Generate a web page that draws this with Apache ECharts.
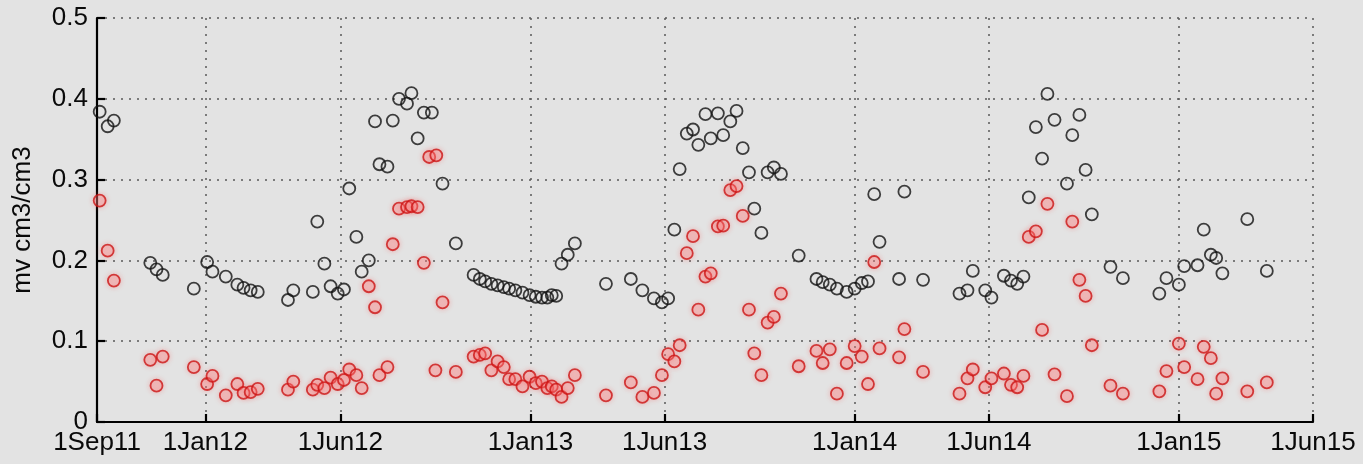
<!DOCTYPE html>
<html>
<head>
<meta charset="utf-8">
<script src="https://cdn.jsdelivr.net/npm/echarts@6/dist/echarts.min.js"></script>
<style>
  html, body { margin: 0; padding: 0; background: #e3e3e3; }
  #chart { width: 1363px; height: 464px; }
</style>
</head>
<body>
<div id="chart"></div>
<script>
// Axis ticks on the date axis
const tickDates = ['2011-09-01', '2012-01-01', '2012-06-01', '2013-01-01', '2013-06-01',
                   '2014-01-01', '2014-06-01', '2015-01-01', '2015-06-01'];
const tickLabels = ['1Sep11', '1Jan12', '1Jun12', '1Jan13', '1Jun13',
                    '1Jan14', '1Jun14', '1Jan15', '1Jun15'];

// Black series: dates and soil moisture (cm3/cm3)
const blackDates = [
  '2011-09-04', '2011-09-13', '2011-09-20', '2011-10-31', '2011-11-07', '2011-11-14', '2011-12-19',
  '2012-01-03', '2012-01-09', '2012-01-24', '2012-02-06', '2012-02-13', '2012-02-21', '2012-02-29',
  '2012-04-03', '2012-04-09', '2012-05-01', '2012-05-06', '2012-05-14', '2012-05-21', '2012-05-29',
  '2012-06-05', '2012-06-11', '2012-06-19', '2012-06-25', '2012-07-03', '2012-07-10', '2012-07-15',
  '2012-07-24', '2012-07-30', '2012-08-06', '2012-08-15', '2012-08-20', '2012-08-27', '2012-09-03',
  '2012-09-12', '2012-09-24', '2012-10-09', '2012-10-29', '2012-11-05', '2012-11-11', '2012-11-18',
  '2012-11-25', '2012-12-02', '2012-12-08', '2012-12-15', '2012-12-23', '2012-12-31', '2013-01-07',
  '2013-01-14', '2013-01-20', '2013-01-25', '2013-01-30', '2013-02-05', '2013-02-12', '2013-02-20',
  '2013-03-27', '2013-04-24', '2013-05-07', '2013-05-20', '2013-05-29', '2013-06-05', '2013-06-12',
  '2013-06-18', '2013-06-26', '2013-07-03', '2013-07-09', '2013-07-17', '2013-07-23', '2013-07-31',
  '2013-08-06', '2013-08-14', '2013-08-21', '2013-08-28', '2013-09-04', '2013-09-10', '2013-09-18',
  '2013-09-25', '2013-10-02', '2013-10-10', '2013-10-30', '2013-11-19', '2013-11-26', '2013-12-04',
  '2013-12-12', '2013-12-23', '2014-01-01', '2014-01-09', '2014-01-16', '2014-01-23', '2014-01-29',
  '2014-02-20', '2014-02-26', '2014-03-19', '2014-04-29', '2014-05-08', '2014-05-14', '2014-05-28',
  '2014-06-04', '2014-06-18', '2014-06-26', '2014-07-03', '2014-07-10', '2014-07-16', '2014-07-24',
  '2014-07-31', '2014-08-06', '2014-08-14', '2014-08-28', '2014-09-03', '2014-09-11', '2014-09-18',
  '2014-09-25', '2014-10-16', '2014-10-30', '2014-12-10', '2014-12-18', '2015-01-01', '2015-01-07',
  '2015-01-22', '2015-01-29', '2015-02-06', '2015-02-12', '2015-02-19', '2015-03-19', '2015-04-10'
];
const blackValues = [
  0.384, 0.366, 0.373, 0.197, 0.189, 0.182, 0.165,
  0.198, 0.186, 0.180, 0.170, 0.166, 0.163, 0.161,
  0.151, 0.163, 0.161, 0.248, 0.196, 0.168, 0.159,
  0.164, 0.289, 0.229, 0.186, 0.200, 0.372, 0.319,
  0.316, 0.373, 0.400, 0.394, 0.407, 0.351, 0.383,
  0.383, 0.295, 0.221, 0.182, 0.177, 0.174, 0.171,
  0.169, 0.167, 0.165, 0.163, 0.160, 0.157, 0.155,
  0.154, 0.154, 0.157, 0.156, 0.196, 0.207, 0.221,
  0.171, 0.177, 0.163, 0.153, 0.148, 0.153, 0.238,
  0.313, 0.357, 0.362, 0.343, 0.381, 0.351, 0.382,
  0.355, 0.372, 0.385, 0.339, 0.309, 0.264, 0.234,
  0.309, 0.315, 0.307, 0.206, 0.177, 0.173, 0.170,
  0.165, 0.161, 0.165, 0.172, 0.174, 0.282, 0.223,
  0.177, 0.285, 0.176, 0.159, 0.163, 0.187, 0.163,
  0.154, 0.181, 0.175, 0.171, 0.180, 0.278, 0.365,
  0.326, 0.406, 0.374, 0.295, 0.355, 0.380, 0.312,
  0.257, 0.192, 0.178, 0.159, 0.178, 0.170, 0.193,
  0.194, 0.238, 0.207, 0.203, 0.184, 0.251, 0.187
];

// Red series: dates and soil moisture (cm3/cm3)
const redDates = [
  '2011-09-04', '2011-09-13', '2011-09-20', '2011-10-31', '2011-11-07', '2011-11-14', '2011-12-19',
  '2012-01-03', '2012-01-09', '2012-01-24', '2012-02-06', '2012-02-13', '2012-02-21', '2012-02-29',
  '2012-04-03', '2012-04-09', '2012-05-01', '2012-05-06', '2012-05-14', '2012-05-21', '2012-05-29',
  '2012-06-05', '2012-06-11', '2012-06-19', '2012-06-25', '2012-07-03', '2012-07-10', '2012-07-15',
  '2012-07-24', '2012-07-30', '2012-08-06', '2012-08-15', '2012-08-20', '2012-08-27', '2012-09-03',
  '2012-09-09', '2012-09-17', '2012-09-16', '2012-09-24', '2012-10-09', '2012-10-29', '2012-11-05',
  '2012-11-11', '2012-11-18', '2012-11-25', '2012-12-02', '2012-12-08', '2012-12-15', '2012-12-23',
  '2012-12-31', '2013-01-07', '2013-01-14', '2013-01-20', '2013-01-25', '2013-01-30', '2013-02-05',
  '2013-02-12', '2013-02-20', '2013-03-27', '2013-04-24', '2013-05-07', '2013-05-20', '2013-05-29',
  '2013-06-05', '2013-06-12', '2013-06-18', '2013-06-26', '2013-07-03', '2013-07-09', '2013-07-17',
  '2013-07-23', '2013-07-31', '2013-08-06', '2013-08-14', '2013-08-21', '2013-08-28', '2013-09-04',
  '2013-09-10', '2013-09-18', '2013-09-25', '2013-10-02', '2013-10-10', '2013-10-30', '2013-11-19',
  '2013-11-26', '2013-12-04', '2013-12-12', '2013-12-23', '2014-01-01', '2014-01-09', '2014-01-16',
  '2014-01-23', '2014-01-29', '2014-02-20', '2014-02-26', '2014-03-19', '2014-04-29', '2014-05-08',
  '2014-05-14', '2014-05-28', '2014-06-04', '2014-06-18', '2014-06-26', '2014-07-03', '2014-07-10',
  '2014-07-16', '2014-07-24', '2014-07-31', '2014-08-06', '2014-08-14', '2014-08-28', '2014-09-03',
  '2014-09-11', '2014-09-18', '2014-09-25', '2014-10-16', '2014-10-30', '2014-12-10', '2014-12-18',
  '2015-01-01', '2015-01-07', '2015-01-22', '2015-01-29', '2015-02-06', '2015-02-12', '2015-02-19',
  '2015-03-19', '2015-04-10'
];
const redValues = [
  0.274, 0.212, 0.175, 0.077, 0.045, 0.081, 0.068,
  0.047, 0.057, 0.033, 0.047, 0.036, 0.037, 0.041,
  0.040, 0.050, 0.040, 0.046, 0.042, 0.055, 0.047,
  0.052, 0.065, 0.058, 0.042, 0.168, 0.142, 0.058,
  0.068, 0.220, 0.264, 0.266, 0.267, 0.266, 0.197,
  0.328, 0.330, 0.064, 0.148, 0.062, 0.081, 0.083,
  0.085, 0.064, 0.075, 0.068, 0.053, 0.053, 0.044,
  0.056, 0.048, 0.050, 0.042, 0.044, 0.040, 0.031,
  0.042, 0.058, 0.033, 0.049, 0.031, 0.036, 0.058,
  0.084, 0.075, 0.095, 0.209, 0.230, 0.139, 0.180,
  0.184, 0.242, 0.243, 0.287, 0.292, 0.255, 0.139,
  0.085, 0.058, 0.123, 0.130, 0.159, 0.069, 0.088,
  0.073, 0.090, 0.035, 0.073, 0.094, 0.081, 0.047,
  0.198, 0.091, 0.080, 0.115, 0.062, 0.035, 0.054,
  0.065, 0.043, 0.054, 0.060, 0.046, 0.043, 0.057,
  0.229, 0.236, 0.114, 0.270, 0.059, 0.032, 0.248,
  0.176, 0.156, 0.095, 0.045, 0.035, 0.038, 0.063,
  0.097, 0.068, 0.053, 0.093, 0.079, 0.035, 0.054,
  0.038, 0.049
];

const yAxisTitle = 'mv cm3/cm3';

// Dates are placed on a numeric axis as days counted from the first tick
const DAY = 86400000;
function toMs(s) {
  const p = s.split('-').map(Number);
  return Date.UTC(p[0], p[1] - 1, p[2]);
}
const origin = toMs(tickDates[0]);
function toDay(s) { return Math.round((toMs(s) - origin) / DAY); }

const tickDays = tickDates.map(toDay);
const blackData = blackDates.map((d, i) => [toDay(d), blackValues[i]]);
const redData = redDates.map((d, i) => [toDay(d), redValues[i]]);

const FONT = '"Liberation Sans", Arial, Helvetica, sans-serif';
const gridDots = { color: '#5a5a5a', width: 1.5, type: [2, 6] };

const chart = echarts.init(document.getElementById('chart'), null, { renderer: 'canvas' });
chart.setOption({
  backgroundColor: '#e3e3e3',
  animation: false,
  grid: { left: 97, right: 50, top: 18, bottom: 42 },
  xAxis: {
    type: 'value',
    min: tickDays[0],
    max: tickDays[tickDays.length - 1],
    axisLine: { show: true, lineStyle: { color: '#000', width: 2.2 } },
    axisTick: {
      show: true, inside: true, length: 8,
      lineStyle: { color: '#000', width: 2.2 },
      customValues: tickDays
    },
    axisLabel: {
      customValues: tickDays,
      color: '#0a0a0a',
      fontSize: 26,
      fontFamily: FONT,
      margin: 8,
      hideOverlap: false,
      showMinLabel: true,
      showMaxLabel: true,
      formatter: function (v) {
        const i = tickDays.indexOf(Math.round(v));
        return i >= 0 ? tickLabels[i] : '';
      }
    },
    splitLine: { show: true, lineStyle: gridDots }
  },
  yAxis: {
    type: 'value',
    min: 0,
    max: 0.5,
    interval: 0.1,
    name: yAxisTitle,
    nameLocation: 'middle',
    nameGap: 61,
    nameTextStyle: { color: '#0a0a0a', fontSize: 26, fontFamily: FONT },
    axisLine: { show: true, lineStyle: { color: '#000', width: 2.2 } },
    axisTick: { show: true, inside: true, length: 8, lineStyle: { color: '#000', width: 2.2 } },
    axisLabel: { color: '#0a0a0a', fontSize: 26, fontFamily: FONT, margin: 9 },
    splitLine: { show: true, lineStyle: gridDots }
  },
  series: [
    {
      name: 'black',
      type: 'scatter',
      data: blackData,
      symbol: 'circle',
      symbolSize: 12,
      itemStyle: { color: 'rgba(0,0,0,0)', borderColor: '#111', borderWidth: 1.8 },
      emphasis: { disabled: true }
    },
    {
      name: 'red',
      type: 'scatter',
      data: redData,
      symbol: 'circle',
      symbolSize: 12,
      itemStyle: {
        color: 'rgba(255,140,140,0.35)',
        borderColor: '#cc1414',
        borderWidth: 1.8,
        shadowBlur: 5,
        shadowColor: 'rgba(255,90,90,0.55)'
      },
      emphasis: { disabled: true }
    }
  ]
});
</script>
</body>
</html>
